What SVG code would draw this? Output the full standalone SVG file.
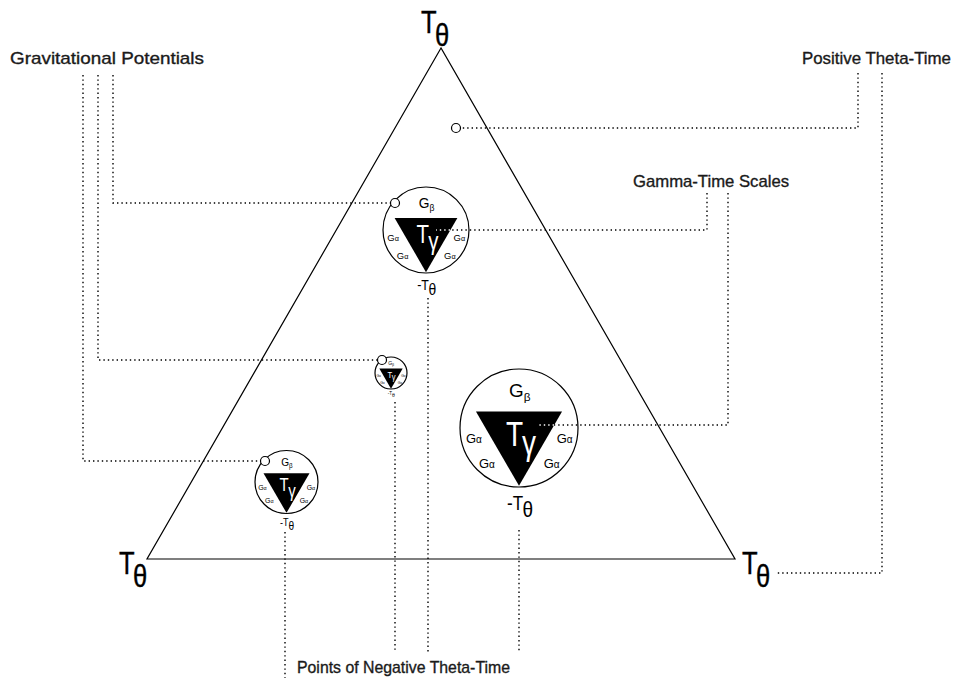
<svg xmlns="http://www.w3.org/2000/svg" width="956" height="683" viewBox="0 0 956 683">
<defs>
<style>
.frame{fill:none;stroke:#000;stroke-width:1.2}
.ring{fill:#fff;stroke:#000;stroke-width:1.2;vector-effect:non-scaling-stroke}
.tri{fill:#000;stroke:none}
.lbl{font-family:"Liberation Sans",Arial,sans-serif;font-size:17px;fill:#1a1a1a;stroke:#1a1a1a;stroke-width:0.35}
.big{font-family:"Liberation Sans",Arial,sans-serif;font-size:32px;fill:#000;stroke:#000;stroke-width:0.4}
.gb{font-family:"Liberation Sans",Arial,sans-serif;font-size:32px;fill:#000}
.ga{font-family:"Liberation Sans",Arial,sans-serif;font-size:22px;fill:#000}
.ty{font-family:"Liberation Sans",Arial,sans-serif;font-size:58px;fill:#fff}
.nt{font-family:"Liberation Sans",Arial,sans-serif;font-size:34px;fill:#000}
.dot{fill:none;stroke:#000;stroke-width:1.4;stroke-dasharray:1.4 3}
.wdot{fill:none;stroke:#fff;stroke-width:1.4;stroke-dasharray:1.4 3}
.pt{fill:#fff;stroke:#000;stroke-width:1.2}
</style>
</defs>
<rect width="956" height="683" fill="#fff"/>

<g id="frame">
<polygon class="frame" points="441,48 147,559 735,559"/>
<text class="big" transform="translate(421,33) scale(0.8,1)">T<tspan dx="-2" dy="13">θ</tspan></text>
<text class="big" transform="translate(119,574) scale(0.8,1)">T<tspan dx="-2" dy="13">θ</tspan></text>
<text class="big" transform="translate(742,574) scale(0.8,1)">T<tspan dx="-2" dy="13">θ</tspan></text>
</g>

<g id="labels">
<text id="lbl-grav" class="lbl" x="10" y="64" textLength="194" lengthAdjust="spacingAndGlyphs">Gravitational Potentials</text>
<text id="lbl-pos" class="lbl" x="802" y="64" textLength="149" lengthAdjust="spacingAndGlyphs">Positive Theta-Time</text>
<text id="lbl-gamma" class="lbl" x="633" y="187" textLength="156" lengthAdjust="spacingAndGlyphs">Gamma-Time Scales</text>
<text id="lbl-neg" class="lbl" x="297" y="673" textLength="213" lengthAdjust="spacingAndGlyphs">Points of Negative Theta-Time</text>
</g>

<g id="node-top" transform="translate(426,230) scale(0.43)">
<circle class="ring" r="100"/>
<polygon class="tri" points="-73,-28 73,-28 0,98"/>
<text class="gb" x="-17" y="-52">G<tspan font-size="20" dy="7">β</tspan></text>
<text class="ga" x="-90" y="25">G<tspan font-size="17" dy="1">α</tspan></text>
<text class="ga" x="-68" y="67">G<tspan font-size="17" dy="1">α</tspan></text>
<text class="ga" x="64" y="25">G<tspan font-size="17" dy="1">α</tspan></text>
<text class="ga" x="42" y="67">G<tspan font-size="17" dy="1">α</tspan></text>
<text class="ty" transform="scale(0.82,1)" x="-27" y="30">T<tspan dx="-2" dy="16">γ</tspan></text>
<text class="nt" transform="scale(0.85,1)" x="-24" y="139">-T<tspan font-size="38" dx="-1" dy="12">θ</tspan></text>
</g>

<g id="node-mid" transform="translate(391,373) scale(0.16)">
<circle class="ring" r="100"/>
<polygon class="tri" points="-73,-28 73,-28 0,98"/>
<text class="gb" x="-17" y="-52">G<tspan font-size="20" dy="7">β</tspan></text>
<text class="ga" x="-90" y="25">G<tspan font-size="17" dy="1">α</tspan></text>
<text class="ga" x="-68" y="67">G<tspan font-size="17" dy="1">α</tspan></text>
<text class="ga" x="64" y="25">G<tspan font-size="17" dy="1">α</tspan></text>
<text class="ga" x="42" y="67">G<tspan font-size="17" dy="1">α</tspan></text>
<text class="ty" transform="scale(0.82,1)" x="-27" y="30">T<tspan dx="-2" dy="16">γ</tspan></text>
<text class="nt" transform="scale(0.85,1)" x="-24" y="139">-T<tspan font-size="38" dx="-1" dy="12">θ</tspan></text>
</g>

<g id="node-low" transform="translate(286.5,482) scale(0.315)">
<circle class="ring" r="100"/>
<polygon class="tri" points="-73,-28 73,-28 0,98"/>
<text class="gb" x="-17" y="-52">G<tspan font-size="20" dy="7">β</tspan></text>
<text class="ga" x="-90" y="25">G<tspan font-size="17" dy="1">α</tspan></text>
<text class="ga" x="-68" y="67">G<tspan font-size="17" dy="1">α</tspan></text>
<text class="ga" x="64" y="25">G<tspan font-size="17" dy="1">α</tspan></text>
<text class="ga" x="42" y="67">G<tspan font-size="17" dy="1">α</tspan></text>
<text class="ty" transform="scale(0.82,1)" x="-27" y="30">T<tspan dx="-2" dy="16">γ</tspan></text>
<text class="nt" transform="scale(0.85,1)" x="-24" y="139">-T<tspan font-size="38" dx="-1" dy="12">θ</tspan></text>
</g>

<g id="node-big" transform="translate(519,428) scale(0.59)">
<circle class="ring" r="100"/>
<polygon class="tri" points="-73,-28 73,-28 0,98"/>
<text class="gb" x="-17" y="-52">G<tspan font-size="20" dy="7">β</tspan></text>
<text class="ga" x="-90" y="25">G<tspan font-size="17" dy="1">α</tspan></text>
<text class="ga" x="-68" y="67">G<tspan font-size="17" dy="1">α</tspan></text>
<text class="ga" x="64" y="25">G<tspan font-size="17" dy="1">α</tspan></text>
<text class="ga" x="42" y="67">G<tspan font-size="17" dy="1">α</tspan></text>
<text class="ty" transform="scale(0.82,1)" x="-27" y="30">T<tspan dx="-2" dy="16">γ</tspan></text>
<text class="nt" transform="scale(0.85,1)" x="-24" y="139">-T<tspan font-size="38" dx="-1" dy="12">θ</tspan></text>
</g>

<g id="connectors">
<path class="dot" d="M113,75 V203 H391"/>
<path class="dot" d="M98,75 V360 H378"/>
<path class="dot" d="M83,75 V461 H261"/>
<path class="dot" d="M858,73 V128 H461"/>
<path class="dot" d="M882,73 V573 H775"/>
<path class="dot" d="M707,193 V230 H450"/>
<path class="wdot" d="M450,230 H436"/>
<path class="dot" d="M728,193 V425 H554"/>
<path class="wdot" d="M554,425 H539"/>
<path class="dot" d="M285,532 V678"/>
<path class="dot" d="M395,402 V652"/>
<path class="dot" d="M428,298 V652"/>
<path class="dot" d="M519,530 V652"/>
<circle class="pt" cx="395" cy="203" r="4.5"/>
<circle class="pt" cx="382" cy="360" r="4.5"/>
<circle class="pt" cx="265" cy="461" r="4.5"/>
<circle class="pt" cx="456" cy="128" r="4.5"/>
</g>
</svg>
